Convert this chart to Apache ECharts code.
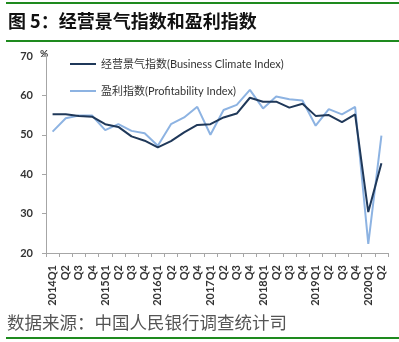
<!DOCTYPE html>
<html>
<head>
<meta charset="utf-8">
<script src="https://cdn.jsdelivr.net/npm/echarts@6/dist/echarts.min.js"></script>
<style>
  html, body { margin: 0; padding: 0; background: #fff; }
  #wrap { position: relative; width: 399px; height: 342px; overflow: hidden; }
  #chart { position: absolute; left: 0; top: 0; width: 399px; height: 342px; }
</style>
</head>
<body>
<div id="wrap"><div id="chart"></div></div>
<script>
// Quarterly categories, 2014Q1 – 2020Q2
const quarters = [
  '2014Q1','Q2','Q3','Q4',
  '2015Q1','Q2','Q3','Q4',
  '2016Q1','Q2','Q3','Q4',
  '2017Q1','Q2','Q3','Q4',
  '2018Q1','Q2','Q3','Q4',
  '2019Q1','Q2','Q3','Q4',
  '2020Q1','Q2'
];

// 经营景气指数 (%)
const businessClimate = [
  55.2, 55.2, 54.8, 54.6,
  52.7, 52.0, 49.6, 48.5,
  46.8, 48.4, 50.6, 52.5,
  52.7, 54.4, 55.4, 59.4,
  58.4, 58.4, 56.9, 57.9,
  54.8, 55.0, 53.2, 55.2,
  30.4, 42.8
];

// 盈利指数 (%)
const profitability = [
  50.8, 54.2, 54.9, 54.9,
  51.2, 52.7, 51.0, 50.4,
  47.2, 52.7, 54.4, 57.1,
  50.0, 56.3, 57.6, 61.4,
  56.7, 59.7, 59.0, 58.7,
  52.3, 56.5, 55.2, 57.1,
  22.3, 49.8
];

const yTicks = [20, 30, 40, 50, 60, 70];

const seriesNames = ['经营景气指数(Business Climate Index)', '盈利指数(Profitability Index)'];
const darkBlue = '#1f3859';
const lightBlue = '#8db3e2';
const green = '#1e8a1e';
const latin = "Lato, 'Noto Sans CJK SC', sans-serif";

const chart = echarts.init(document.getElementById('chart'), null, { renderer: 'canvas' });

chart.setOption({
  animation: false,
  backgroundColor: '#fff',
  graphic: [
    { type: 'rect', shape: { x: 6, y: 2, width: 393, height: 2 }, style: { fill: green } },
    { type: 'text', left: 8, top: 12,
      style: { text: '图 5：经营景气指数和盈利指数', fill: '#111',
               font: "bold 18px 'Noto Sans CJK SC', sans-serif" } },
    { type: 'rect', shape: { x: 6, y: 40, width: 393, height: 2 }, style: { fill: green } },
    { type: 'text', left: 40, top: 49,
      style: { text: '%', fill: '#333', font: "bold 10px " + latin } },
    { type: 'text', left: 7, top: 314,
      style: { text: '数据来源：中国人民银行调查统计司', fill: '#555',
               font: "17.5px 'Noto Sans CJK SC', sans-serif" } },
    { type: 'rect', shape: { x: 6, y: 337, width: 393, height: 2 }, style: { fill: green } }
  ],
  legend: {
    orient: 'vertical',
    left: 65,
    top: 52,
    icon: 'rect',
    itemWidth: 26,
    itemHeight: 2,
    itemGap: 13,
    data: seriesNames,
    textStyle: { color: '#333', fontSize: 11, fontFamily: latin, lineHeight: 14 }
  },
  grid: { left: 46, right: 11, top: 56, bottom: 89 },
  xAxis: {
    type: 'category',
    data: quarters,
    boundaryGap: true,
    axisLine: { lineStyle: { color: '#a6a6a6', width: 1 } },
    axisTick: { show: true, length: 4, lineStyle: { color: '#a6a6a6' } },
    axisLabel: {
      interval: 0, rotate: 90, margin: 12,
      color: '#333', fontSize: 11, fontFamily: latin, fontWeight: 'bold'
    },
    splitLine: { show: false }
  },
  yAxis: {
    type: 'value',
    min: yTicks[0],
    max: yTicks[yTicks.length - 1],
    interval: 10,
    axisLine: { show: true, lineStyle: { color: '#a6a6a6', width: 1 } },
    axisTick: { show: true, length: 4, lineStyle: { color: '#a6a6a6' } },
    axisLabel: { margin: 13, color: '#333', fontSize: 11, fontFamily: latin, fontWeight: 'bold' },
    splitLine: { show: false }
  },
  series: [
    {
      name: seriesNames[0], type: 'line', data: businessClimate,
      symbol: 'none', lineStyle: { color: darkBlue, width: 2 }, itemStyle: { color: darkBlue }, z: 3
    },
    {
      name: seriesNames[1], type: 'line', data: profitability,
      symbol: 'none', lineStyle: { color: lightBlue, width: 2 }, itemStyle: { color: lightBlue }, z: 2
    }
  ]
});
</script>
</body>
</html>
